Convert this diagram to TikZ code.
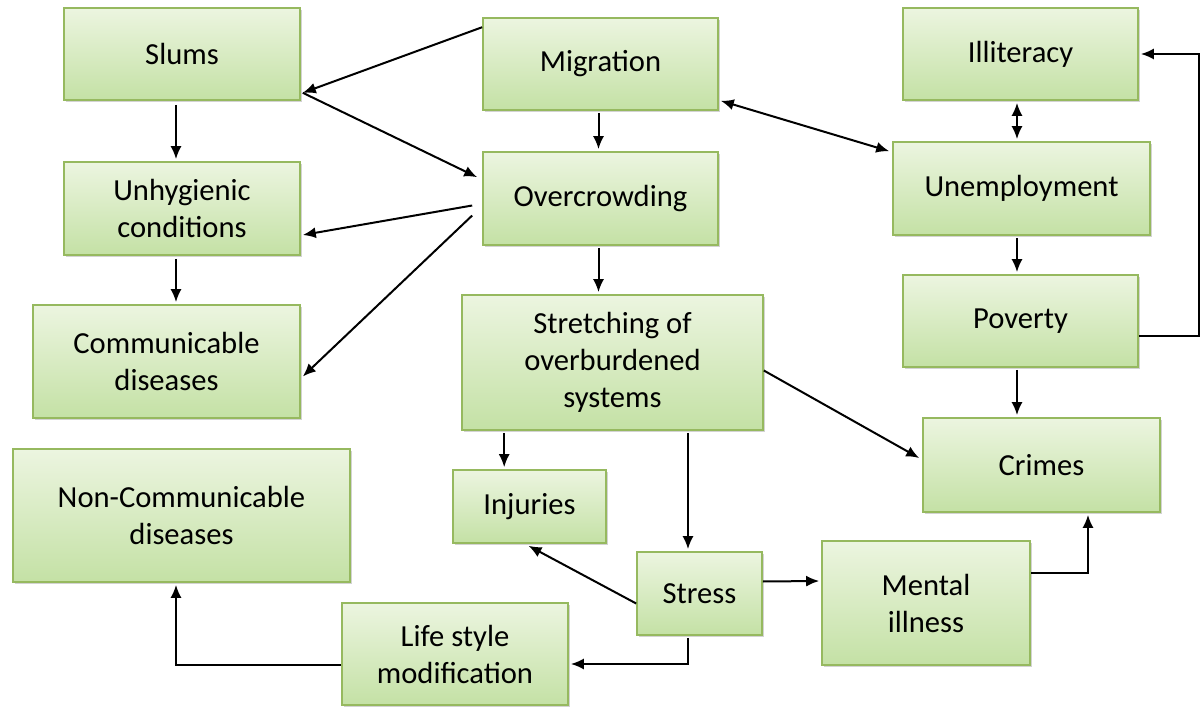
\documentclass[tikz,border=0pt]{standalone}
\usepackage{fontspec}
\setmainfont{Carlito}
\usetikzlibrary{arrows.meta,shadows,calc}
\definecolor{boxtop}{RGB}{236,245,224}
\definecolor{boxbot}{RGB}{196,225,165}
\definecolor{boxborder}{RGB}{150,185,95}
\tikzset{
  cbox/.style={draw=boxborder, line width=0.8pt, top color=boxtop, bottom color=boxbot,
    drop shadow={shadow xshift=1.2pt, shadow yshift=-1.2pt, opacity=0.35},
    align=center, inner sep=0pt, font=\fontsize{15.3}{18.5}\selectfont},
  arr/.style={-{Latex[length=6.5pt,width=5.5pt]}, line width=1pt},
  dbl/.style={{Latex[length=6.5pt,width=5.5pt]}-{Latex[length=6.5pt,width=5.5pt]}, line width=1pt}
}
\begin{document}
\begin{tikzpicture}[x=0.5pt,y=-0.5pt]
\useasboundingbox (0,0) rectangle (1200,711);

% boxes
\node[cbox, minimum width=118pt,   minimum height=46pt]   (slums)  at (182,54)      {Slums};
\node[cbox, minimum width=117.5pt, minimum height=46pt]   (mig)    at (600.5,64)    {Migration};
\node[cbox, minimum width=117.5pt, minimum height=46pt]   (ill)    at (1020.5,54)   {Illiteracy};
\node[cbox, minimum width=118pt,   minimum height=46.5pt] (unhyg)  at (182,208.5)   {Unhygienic\\conditions};
\node[cbox, minimum width=117.5pt, minimum height=46.5pt] (over)   at (600.5,198.5) {Overcrowding};
\node[cbox, minimum width=128.5pt, minimum height=46.5pt] (unemp)  at (1021.5,188.5){Unemployment};
\node[cbox, minimum width=133.5pt, minimum height=56.5pt] (comm)   at (166.5,361.5) {Communicable\\diseases};
\node[cbox, minimum width=150.5pt, minimum height=67.5pt] (stretch)at (612.5,362.5) {Stretching of\\overburdened\\systems};
\node[cbox, minimum width=117.5pt, minimum height=46pt]   (pov)    at (1020.5,321)  {Poverty};
\node[cbox, minimum width=118.5pt, minimum height=47pt]   (crime)  at (1041.5,465)  {Crimes};
\node[cbox, minimum width=168.5pt, minimum height=66.5pt] (ncd)    at (181.5,515.5) {Non-Communicable\\diseases};
\node[cbox, minimum width=76.5pt,  minimum height=36.5pt] (inj)    at (529.5,506.5) {Injuries};
\node[cbox, minimum width=62.5pt,  minimum height=41.5pt] (stress) at (699.5,593.5) {Stress};
\node[cbox, minimum width=104pt,   minimum height=62pt]   (mental) at (926,603)     {Mental\\illness};
\node[cbox, minimum width=113pt,   minimum height=51pt]   (life)   at (455,654)     {Life style\\modification};

% connectors
\draw[arr] ($(mig.north west)+(0,10)$) -- ($(slums.south east)+(2,-8)$);
\draw[arr] ($(slums.south east)+(2,-8)$) -- ($(over.north west)+(-5,26)$);
\draw[arr] ($(slums.south)+(-6,4)$) -- ($(unhyg.north)+(-6,-2)$);
\draw[arr] ($(unhyg.south)+(-6,3)$) -- ($(comm.north)+(9.5,-2)$);
\draw[arr] ($(mig.south)+(-2,2)$) -- ($(over.north)+(-2,-2)$);
\draw[arr] ($(over.west)+(-10,7)$) -- ($(unhyg.east)+(2,26.5)$);
\draw[arr] ($(over.west)+(-10,17)$) -- ($(comm.east)+(2,15)$);
\draw[dbl] ($(mig.south east)+(2,-10)$) -- ($(unemp.north west)+(-3,10)$);
\draw[dbl] ($(ill.south)+(-3.5,2)$) -- ($(unemp.north)+(-4.5,-2)$);
\draw[arr] ($(unemp.south)+(-4.5,2)$) -- ($(pov.north)+(-3.5,-2)$);
\draw[arr] ($(pov.east)+(0,15)$) -- ++(60,0) |- ($(ill.east)+(2,0)$);
\draw[arr] ($(pov.south)+(-3.5,2)$) -- ($(crime.north)+(-24.5,-2)$);
\draw[arr] ($(over.south)+(-2,2)$) -- ($(stretch.north)+(-14,-2)$);
\draw[arr] ($(stretch.east)+(0,8)$) -- ($(crime.west)+(-3,-7)$);
\draw[arr] ($(stretch.south west)+(43,2)$) -- ($(inj.north west)+(52,-2)$);
\draw[arr] ($(stretch.south)+(75.5,2)$) -- ($(stress.north)+(-11.5,-2)$);
\draw[arr] ($(stress.west)+(0,10)$) -- ($(inj.south)+(-1,2)$);
\draw[arr] ($(stress.east)+(0,-12)$) -- ($(mental.west)+(-2,-22)$);
\draw[arr] ($(mental.east)+(0,-30)$) -| ($(crime.south)+(46.5,2)$);
\draw[arr] ($(stress.south)+(-11.5,2)$) |- ($(life.east)+(2,10)$);
\draw[arr] ($(life.west)+(0,11)$) -| ($(ncd.south)+(-5.5,2)$);
\end{tikzpicture}
\end{document}
